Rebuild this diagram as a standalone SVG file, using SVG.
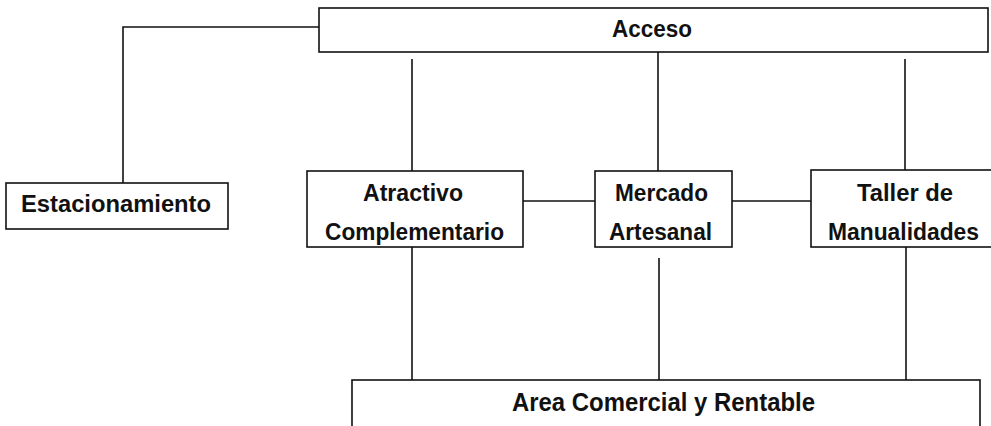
<svg xmlns="http://www.w3.org/2000/svg" width="991" height="426" viewBox="0 0 991 426">
<style>
.box{fill:#fff;stroke:#111;stroke-width:1.6}
.ln{fill:none;stroke:#111;stroke-width:1.6}
.t{font-family:"Liberation Sans",Arial,sans-serif;font-size:23.5px;font-weight:bold;fill:#111;text-anchor:middle}
.r{font-size:25px}
</style>
<rect width="991" height="426" fill="#fff"/>
<g id="connectors">
<polyline class="ln" points="319,27 123,27 123,183"/>
<line class="ln" x1="412" y1="59" x2="412" y2="171"/>
<line class="ln" x1="658" y1="50" x2="658" y2="171"/>
<line class="ln" x1="905" y1="59" x2="905" y2="170"/>
<line class="ln" x1="523" y1="201" x2="595" y2="201"/>
<line class="ln" x1="732" y1="201" x2="811" y2="201"/>
<line class="ln" x1="412" y1="247" x2="412" y2="380"/>
<line class="ln" x1="659" y1="258" x2="659" y2="380"/>
<line class="ln" x1="906" y1="247" x2="906" y2="380"/>
</g>
<g id="acceso">
<rect class="box" x="319" y="8" width="669" height="44"/>
<text class="t" x="652" y="37" textLength="80" lengthAdjust="spacingAndGlyphs">Acceso</text>
</g>
<g id="estacionamiento">
<rect class="box" x="6" y="183" width="222" height="46"/>
<text class="t" x="116" y="212" textLength="190" lengthAdjust="spacingAndGlyphs">Estacionamiento</text>
</g>
<g id="atractivo">
<rect class="box" x="307" y="171" width="216" height="76"/>
<text class="t" x="413" y="201" textLength="100" lengthAdjust="spacingAndGlyphs">Atractivo</text>
<text class="t" x="414.5" y="240" textLength="179" lengthAdjust="spacingAndGlyphs">Complementario</text>
</g>
<g id="mercado">
<rect class="box" x="595" y="171" width="137" height="76"/>
<text class="t" x="661.5" y="201" textLength="93" lengthAdjust="spacingAndGlyphs">Mercado</text>
<text class="t" x="660.5" y="240" textLength="103" lengthAdjust="spacingAndGlyphs">Artesanal</text>
</g>
<g id="taller">
<rect class="box" x="811" y="170" width="190" height="77"/>
<text class="t" x="905" y="201" textLength="96" lengthAdjust="spacingAndGlyphs">Taller de</text>
<text class="t" x="903.5" y="240" textLength="151" lengthAdjust="spacingAndGlyphs">Manualidades</text>
</g>
<g id="area">
<rect class="box" x="352" y="380" width="628" height="60"/>
<text class="t r" x="663.5" y="411" textLength="303" lengthAdjust="spacingAndGlyphs">Area Comercial y Rentable</text>
</g>
</svg>
